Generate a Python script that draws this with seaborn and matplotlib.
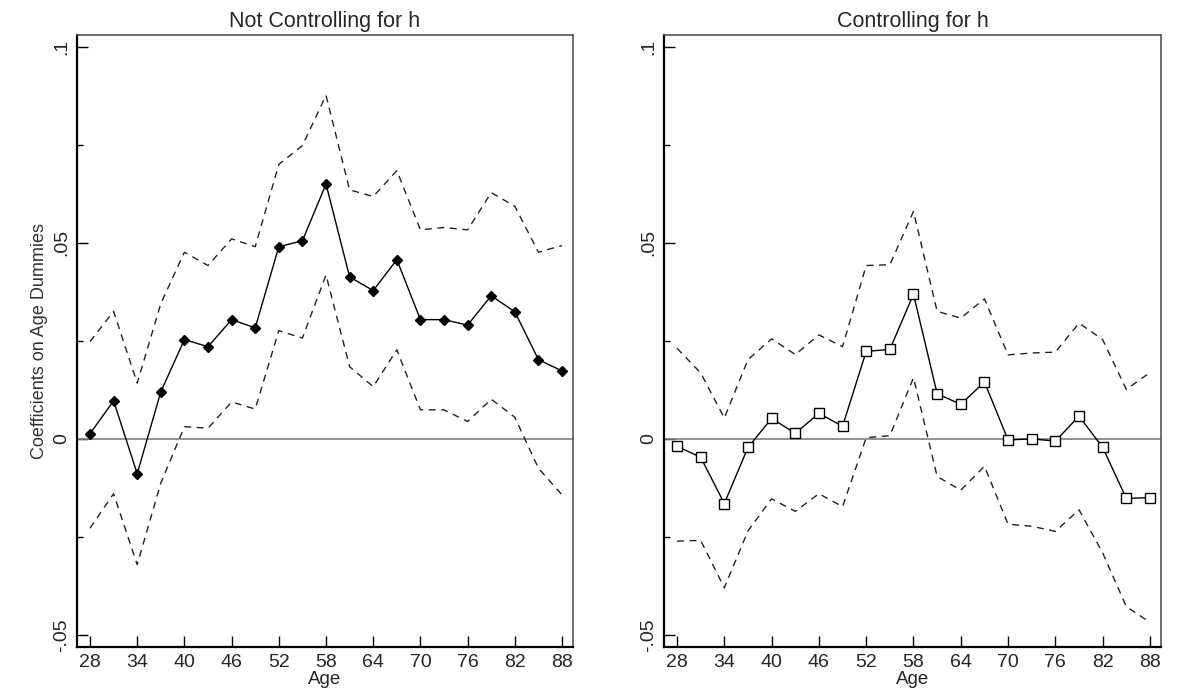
import numpy as np
import pandas as pd
import matplotlib
matplotlib.use("Agg")
import matplotlib.pyplot as plt
import seaborn as sns

# ----- Dati -----
ages = [28, 31, 34, 37, 40, 43, 46, 49, 52, 55, 58, 61, 64, 67, 70, 73, 76, 79, 82, 85, 88]

# Not controlling for h
coef_noh = [0.0013, 0.0097, -0.0089, 0.0120, 0.0253, 0.0235, 0.0304, 0.0283, 0.0490, 0.0505, 0.0650,
            0.0413, 0.0378, 0.0457, 0.0304, 0.0304, 0.0290, 0.0365, 0.0324, 0.0202, 0.0173]
upper_noh = [0.0248, 0.0325, 0.0142, 0.0345, 0.0476, 0.0442, 0.0510, 0.0490, 0.0700, 0.0748, 0.0876,
             0.0635, 0.0618, 0.0684, 0.0533, 0.0539, 0.0533, 0.0628, 0.0593, 0.0476, 0.0493]
lower_noh = [-0.0228, -0.0140, -0.0321, -0.0113, 0.0031, 0.0027, 0.0094, 0.0076, 0.0276, 0.0257, 0.0418,
             0.0184, 0.0133, 0.0227, 0.0074, 0.0074, 0.0044, 0.0101, 0.0055, -0.0075, -0.0143]

# Controlling for h
coef_h = [-0.0019, -0.0047, -0.0165, -0.0022, 0.0052, 0.0014, 0.0065, 0.0032, 0.0223, 0.0228, 0.0369,
          0.0115, 0.0088, 0.0145, -0.0003, 0.0000, -0.0006, 0.0058, -0.0022, -0.0152, -0.0150]
upper_h = [0.0231, 0.0168, 0.0053, 0.0202, 0.0255, 0.0215, 0.0265, 0.0235, 0.0442, 0.0444, 0.0580,
           0.0325, 0.0308, 0.0357, 0.0214, 0.0219, 0.0221, 0.0295, 0.0253, 0.0126, 0.0169]
lower_h = [-0.0261, -0.0259, -0.0380, -0.0235, -0.0153, -0.0185, -0.0140, -0.0173, 0.0003, 0.0008, 0.0156,
           -0.0096, -0.0131, -0.0070, -0.0218, -0.0223, -0.0236, -0.0181, -0.0291, -0.0428, -0.0468]

x_ticks = [28, 34, 40, 46, 52, 58, 64, 70, 76, 82, 88]
y_ticks = [-0.05, 0, 0.05, 0.1]
y_tick_labels = ["-.05", "0", ".05", ".1"]
titles = ["Not Controlling for h", "Controlling for h"]

sns.set_style("white")
plt.rcParams["font.family"] = ["Liberation Sans", "DejaVu Sans"]

fig = plt.figure(figsize=(11.83, 6.94), dpi=100)
ax1 = fig.add_axes([0.0651, 0.0677, 0.4193, 0.8819])
ax2 = fig.add_axes([0.5613, 0.0677, 0.4201, 0.8819])

panels = [
    (ax1, coef_noh, upper_noh, lower_noh, "D", "black", 5),
    (ax2, coef_h, upper_h, lower_h, "s", "white", 7),
]

for i, (ax, coef, up, lo, mk, mfc, ms) in enumerate(panels):
    df = pd.DataFrame({"age": ages, "coef": coef, "upper": up, "lower": lo})

    ax.axhline(0, color="#7f7f7f", lw=1.2, zorder=1)
    sns.lineplot(data=df, x="age", y="upper", ax=ax, color="#222222", lw=1.0,
                 linestyle=(0, (5, 4)))
    sns.lineplot(data=df, x="age", y="lower", ax=ax, color="#222222", lw=1.0,
                 linestyle=(0, (5, 4)))
    sns.lineplot(data=df, x="age", y="coef", ax=ax, color="black", lw=1.0,
                 marker=mk, markersize=ms, markerfacecolor=mfc,
                 markeredgecolor="black", markeredgewidth=1.0)

    ax.set_xlim(26.35, 89.4)
    ax.set_ylim(-0.0531, 0.103)
    ax.set_xticks(x_ticks)
    ax.set_xticklabels([str(t) for t in x_ticks], fontsize=14)
    ax.set_yticks(y_ticks)
    ax.set_yticklabels(y_tick_labels, fontsize=14, rotation=90, va="center")
    ax.set_yticks([-0.025, 0.025, 0.075], minor=True)
    ax.tick_params(axis="both", which="major", direction="in", length=8, width=1.0,
                   color="black", pad=5, bottom=True, left=True)
    ax.tick_params(axis="y", which="minor", direction="in", length=4, width=1.0,
                   color="black", left=True)
    ax.tick_params(axis="x", pad=5)

    ax.set_title(titles[i], fontsize=15.5, pad=6)
    ax.set_xlabel("Age", fontsize=13.5, labelpad=0)
    if i == 0:
        ax.set_ylabel("Coefficients on Age Dummies", fontsize=13, color="#333333", labelpad=4)
    else:
        ax.set_ylabel("")

    for side in ["left", "bottom"]:
        ax.spines[side].set_color("black")
        ax.spines[side].set_linewidth(1.6)
    for side in ["top", "right"]:
        ax.spines[side].set_color("#555555")
        ax.spines[side].set_linewidth(1.2)

fig.savefig("out.png", dpi=100)
